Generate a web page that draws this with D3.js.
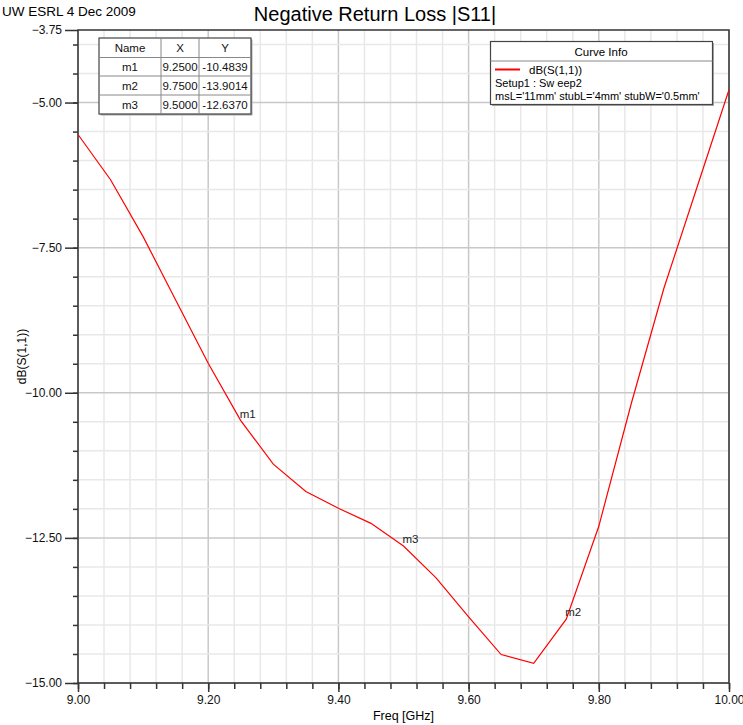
<!DOCTYPE html>
<html>
<head>
<meta charset="utf-8">
<script src="https://cdn.jsdelivr.net/npm/d3@7"></script>
<style>
  body { margin: 0; background: #fff; }
  svg { font-family: "Liberation Sans", Arial, sans-serif; }
</style>
</head>
<body>
<svg id="chart" width="743" height="725"></svg>
<script>
// curve samples
var freqs = [9.00, 9.05, 9.10, 9.15, 9.20, 9.25, 9.30, 9.35, 9.40, 9.45, 9.50,
             9.55, 9.60, 9.65, 9.70, 9.75, 9.80, 9.85, 9.90, 9.95, 10.00];
var s11 = [-5.55, -6.33, -7.31, -8.40, -9.49, -10.48, -11.23, -11.70, -11.99, -12.25, -12.64,
           -13.19, -13.86, -14.51, -14.66, -13.90, -12.30, -10.18, -8.20, -6.49, -4.78];

// marker table
var markerNames = ["m1", "m2", "m3"];
var markerX = [9.25, 9.75, 9.50];
var markerY = [-10.4839, -13.9014, -12.6370];

var xTickLabels = [9.00, 9.20, 9.40, 9.60, 9.80, 10.00];
var yTickLabels = [-3.75, -5.00, -7.50, -10.00, -12.50, -15.00];

var legendLines = ["Setup1 : Sw eep2", "msL='11mm' stubL='4mm' stubW='0.5mm'"];

var svg = d3.select("#chart");
var plotLeft = 78, plotRight = 729, plotTop = 30, plotBottom = 683;

var x = d3.scaleLinear().domain([9, 10]).range([plotLeft, plotRight]);
var y = d3.scaleLinear().domain([-15, -3.75]).range([plotBottom, plotTop]);

/*
 *** Grid
 */
var xMinor = d3.range(0, 26).map(function(i){ return 9 + i * 0.04; });
var yMinor = d3.range(0, 23).map(function(i){ return -15 + i * 0.5; });

svg.append("g").selectAll("line")
    .data(xMinor)
    .enter().append("line")
    .attr("x1", function(d){ return x(d); })
    .attr("x2", function(d){ return x(d); })
    .attr("y1", plotTop).attr("y2", plotBottom)
    .attr("stroke", function(d){ return Math.abs(d * 5 - Math.round(d * 5)) < 1e-6 ? "#c8c8c8" : "#e8e8e8"; })
    .attr("stroke-width", 1.5);

svg.append("g").selectAll("line")
    .data(yMinor)
    .enter().append("line")
    .attr("x1", plotLeft).attr("x2", plotRight)
    .attr("y1", function(d){ return y(d); })
    .attr("y2", function(d){ return y(d); })
    .attr("stroke", function(d){ return Math.abs(d / 2.5 - Math.round(d / 2.5)) < 1e-6 ? "#c8c8c8" : "#e8e8e8"; })
    .attr("stroke-width", 1.5);

// frame
svg.append("rect")
    .attr("x", plotLeft).attr("y", plotTop)
    .attr("width", plotRight - plotLeft).attr("height", plotBottom - plotTop)
    .attr("fill", "none").attr("stroke", "#333").attr("stroke-width", 1.5);

/*
 *** Axes
 */
var xAxisMinor = d3.axisBottom(x).tickValues(xMinor).tickSize(6).tickFormat("");
svg.append("g").attr("transform", "translate(0," + plotBottom + ")").call(xAxisMinor);
var xAxis = d3.axisBottom(x).tickValues(xTickLabels).tickSize(9).tickPadding(3).tickFormat(d3.format(".2f"));
svg.append("g").attr("class", "xaxis").attr("transform", "translate(0," + plotBottom + ")").call(xAxis);

var yAxisMinor = d3.axisLeft(y).tickValues(yMinor).tickSize(5).tickFormat("");
svg.append("g").attr("transform", "translate(" + plotLeft + ",0)").call(yAxisMinor);
var yAxis = d3.axisLeft(y).tickValues(yTickLabels).tickSize(13).tickPadding(3).tickFormat(d3.format(".2f"));
svg.append("g").attr("class", "yaxis").attr("transform", "translate(" + plotLeft + ",0)").call(yAxis);

svg.selectAll(".domain").remove();
svg.selectAll(".tick line").attr("stroke", "#333").attr("stroke-width", 1.5);
svg.selectAll(".xaxis text, .yaxis text")
    .attr("font-family", "Liberation Sans, Arial, sans-serif")
    .attr("font-size", 12).attr("fill", "#111");

// axis titles
svg.append("text").attr("x", (plotLeft + plotRight) / 2).attr("y", 720)
    .attr("text-anchor", "middle").attr("font-size", 12.5).text("Freq [GHz]");
svg.append("text").attr("transform", "translate(26," + ((plotTop + plotBottom) / 2) + ") rotate(-90)")
    .attr("text-anchor", "middle").attr("font-size", 12).text("dB(S(1,1))");

svg.append("text").attr("x", 375).attr("y", 21)
    .attr("text-anchor", "middle").attr("font-size", 20).text("Negative Return Loss |S11|");
svg.append("text").attr("x", 2).attr("y", 16)
    .attr("font-size", 13.5).text("UW ESRL 4 Dec 2009");

/*
 *** Curve
 */
var curve = freqs.map(function(f, i){ return [f, s11[i]]; });
var line = d3.line()
    .x(function(d){ return x(d[0]); })
    .y(function(d){ return y(d[1]); });

svg.append("path").datum(curve)
    .attr("d", line)
    .attr("fill", "none")
    .attr("stroke", "#ff0000")
    .attr("stroke-width", 1.2);

// marker labels
svg.append("g").selectAll("text")
    .data(markerNames)
    .enter().append("text")
    .attr("x", function(d, i){ return x(markerX[i]) - 1; })
    .attr("y", function(d, i){ return y(markerY[i]) - 3; })
    .attr("font-size", 11.5).attr("fill", "#222")
    .text(function(d){ return d; });

/*
 *** Marker table
 */
var colX = [99, 161, 199, 251];
var rowY = [38, 57.5, 76, 95, 114];
var tableRows = [["Name", "X", "Y"]].concat(markerNames.map(function(n, i){
    return [n, markerX[i].toFixed(4), markerY[i].toFixed(4)];
}));

var table = svg.append("g");
table.append("rect").attr("x", colX[0] + 1.5).attr("y", rowY[0] + 1.5)
    .attr("width", colX[3] - colX[0]).attr("height", rowY[4] - rowY[0])
    .attr("fill", "#aaa");
table.append("rect").attr("x", colX[0]).attr("y", rowY[0])
    .attr("width", colX[3] - colX[0]).attr("height", rowY[4] - rowY[0])
    .attr("fill", "#fff").attr("stroke", "#444").attr("stroke-width", 1.2);
for(var c = 1; c < 3; c++){
    table.append("line").attr("x1", colX[c]).attr("x2", colX[c])
        .attr("y1", rowY[0]).attr("y2", rowY[4]).attr("stroke", "#888");
}
for(var r = 1; r < 4; r++){
    table.append("line").attr("x1", colX[0]).attr("x2", colX[3])
        .attr("y1", rowY[r]).attr("y2", rowY[r]).attr("stroke", "#888");
}
tableRows.forEach(function(row, r){
    row.forEach(function(cell, c){
        table.append("text")
            .attr("x", (colX[c] + colX[c + 1]) / 2)
            .attr("y", (rowY[r] + rowY[r + 1]) / 2 + 4)
            .attr("text-anchor", "middle").attr("font-size", 11.5).attr("fill", "#111")
            .text(cell);
    });
});

/*
 *** Curve info legend
 */
var legend = svg.append("g");
legend.append("rect").attr("x", 492).attr("y", 43).attr("width", 222).attr("height", 63).attr("fill", "#aaa");
legend.append("rect").attr("x", 490.5).attr("y", 41.5).attr("width", 222).attr("height", 63)
    .attr("fill", "#fff").attr("stroke", "#444").attr("stroke-width", 1.2);
legend.append("line").attr("x1", 490.5).attr("x2", 712.5).attr("y1", 61).attr("y2", 61).attr("stroke", "#888");
legend.append("text").attr("x", 601).attr("y", 55.5).attr("text-anchor", "middle")
    .attr("font-size", 11.5).text("Curve Info");
legend.append("line").attr("x1", 495).attr("x2", 520).attr("y1", 69.5).attr("y2", 69.5)
    .attr("stroke", "#ff0000").attr("stroke-width", 2);
legend.append("text").attr("x", 529).attr("y", 73.5).attr("font-size", 11.5).text("dB(S(1,1))");
legend.selectAll(".info").data(legendLines).enter().append("text")
    .attr("x", 495).attr("y", function(d, i){ return 86.5 + i * 13; })
    .attr("font-size", 11).text(function(d){ return d; });
</script>
</body>
</html>
